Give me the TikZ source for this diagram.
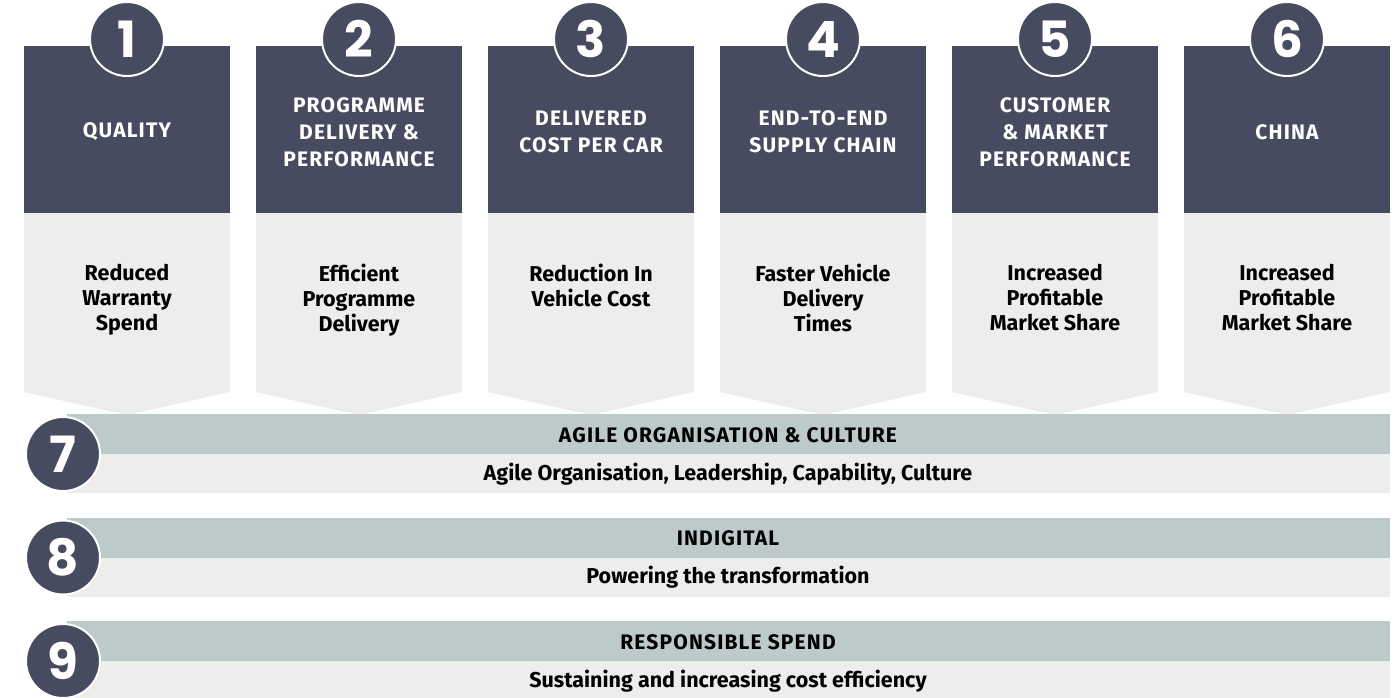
\documentclass[tikz,border=0pt]{standalone}
\usepackage{fontspec}
\setmainfont{Fira Sans}
\newfontfamily\numfont{Poppins}
\definecolor{navy}{RGB}{70,75,95}
\definecolor{paper}{RGB}{238,237,235}
\definecolor{sage}{RGB}{188,203,202}
\begin{document}
\begin{tikzpicture}[x=1pt,y=-1pt,
  numdisc/.style={circle,fill=navy,draw=white,line width=2pt,minimum size=74pt,inner sep=0pt,
    text=white,font=\numfont\bfseries\fontsize{50}{50}\selectfont},
  headtext/.style={text=white,align=center,inner sep=0pt,
    font=\bfseries\fontsize{21}{27}\selectfont\addfontfeature{LetterSpace=5.5}},
  subtext/.style={align=center,anchor=north,inner sep=0pt,font=\bfseries\fontsize{21.5}{25}\selectfont},
  bartitle/.style={anchor=base,inner sep=0pt,
    font=\bfseries\fontsize{21}{21}\selectfont\addfontfeature{LetterSpace=5.5}},
  bartext/.style={anchor=base,inner sep=0pt,font=\bfseries\fontsize{21.5}{21.5}\selectfont}]
  \useasboundingbox (0,0) rectangle (1400,697);
  % six pillars
  \foreach \k/\head/\desc [count=\c from 0] in {
      1/QUALITY/{Reduced\\Warranty\\Spend},
      2/{PROGRAMME\\DELIVERY \&\\PERFORMANCE}/{Efficient\\Programme\\Delivery},
      3/{DELIVERED\\COST PER CAR}/{Reduction In\\Vehicle Cost},
      4/{END-TO-END\\SUPPLY CHAIN}/{Faster Vehicle\\Delivery\\Times},
      5/{CUSTOMER\\\& MARKET\\PERFORMANCE}/{Increased\\Profitable\\Market Share},
      6/CHINA/{Increased\\Profitable\\Market Share}}
  {
    \pgfmathsetmacro\xl{24+232*\c}
    \fill[paper] (\xl,212) -- ++(206,0) -- ++(0,180) -- ++(-103,23) -- ++(-103,-23) -- cycle;
    \fill[navy] (\xl,46) rectangle ++(206,167);
    \node[numdisc] (num\k) at (\xl+103,39) {\k};
    \node[headtext] (head\k) at (\xl+103,132) {\head};
    \node[subtext] (desc\k) at (\xl+103,264) {\desc};
  }
  % three bars
  \foreach \k/\title/\desc [count=\c from 0] in {
      7/{AGILE ORGANISATION \& CULTURE}/{Agile Organisation, Leadership, Capability, Culture},
      8/INDIGITAL/{Powering the transformation},
      9/{RESPONSIBLE SPEND}/{Sustaining and increasing cost efficiency}}
  {
    \pgfmathsetmacro\yt{414+103.5*\c}
    \fill[sage] (67,\yt) rectangle (1390,\yt+40);
    \fill[paper] (67,\yt+40) rectangle (1390,\yt+79);
    \node[numdisc] (num\k) at (63,\yt+40) {\k};
    \node[bartitle] (title\k) at (728,\yt+28) {\title};
    \node[bartext] (desc\k) at (728,\yt+66) {\desc};
  }
\end{tikzpicture}
\end{document}
